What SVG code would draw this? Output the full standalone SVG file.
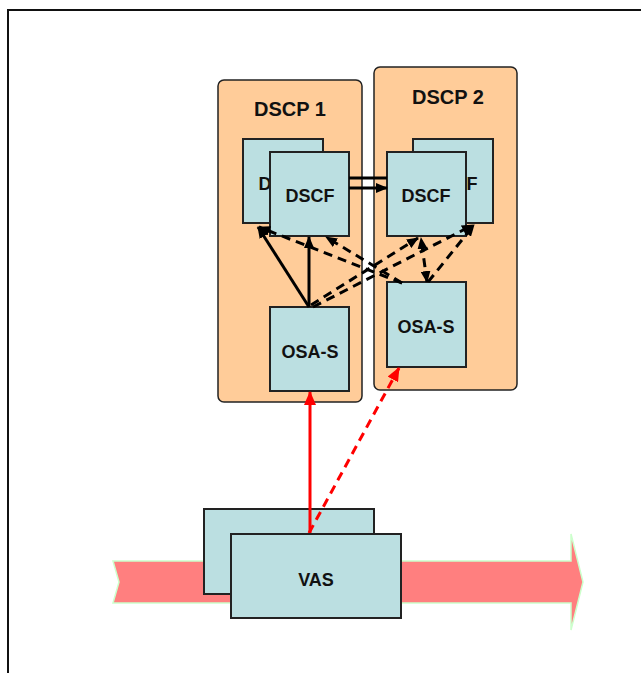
<svg xmlns="http://www.w3.org/2000/svg" width="641" height="673" viewBox="0 0 641 673">
<defs>
<style>
.frame{fill:none;stroke:#111;stroke-width:2}
.dscp{fill:#FFCC99;stroke:#222;stroke-width:1.5}
.box{fill:#BBDFE1;stroke:#222;stroke-width:2}
.lbl{font-family:"Liberation Sans",Arial,sans-serif;font-weight:bold;font-size:18px;fill:#111;text-anchor:middle}
.big{font-size:20px}
.solid{fill:none;stroke:#000;stroke-width:3}
.dash{fill:none;stroke:#000;stroke-width:3;stroke-dasharray:9,6}
.red{fill:none;stroke:#F00;stroke-width:3}
.reddash{fill:none;stroke:#F00;stroke-width:3;stroke-dasharray:9,6}
</style>
<marker id="ah" markerWidth="12" markerHeight="10" refX="11" refY="5" orient="auto" markerUnits="userSpaceOnUse">
<path d="M0,0 L12,5 L0,10 Z" fill="#000"/>
</marker>
<marker id="ahs" markerWidth="12" markerHeight="10" refX="1" refY="5" orient="auto" markerUnits="userSpaceOnUse">
<path d="M12,0 L0,5 L12,10 Z" fill="#000"/>
</marker>
<marker id="rh" markerWidth="14" markerHeight="12" refX="13" refY="6" orient="auto" markerUnits="userSpaceOnUse">
<path d="M0,0 L14,6 L0,12 Z" fill="#F00"/>
</marker>
</defs>

<path class="frame" d="M8,673 V10 H641"/>

<g id="flow">
<polygon points="113,561 571,561 571,534 583,582 571,630 571,603 113,603 119,582" fill="#FF7F7F" stroke="#CCFFCC" stroke-width="1.5"/>
</g>

<g id="dscp1">
<rect class="dscp" x="218" y="80" width="144" height="322" rx="6"/>
<text class="lbl big" x="290" y="116">DSCP 1</text>
</g>
<g id="dscp2">
<rect class="dscp" x="374" y="67" width="143" height="323" rx="6"/>
<text class="lbl big" x="448" y="104">DSCP 2</text>
</g>

<g id="dscf1b">
<rect class="box" x="243" y="139" width="80" height="84"/>
<text class="lbl" x="283" y="190">DSCF</text>
</g>
<g id="dscf1">
<rect class="box" x="270" y="152" width="79" height="84"/>
<text class="lbl" x="310" y="202">DSCF</text>
</g>
<g id="dscf2b">
<rect class="box" x="413" y="139" width="80" height="84"/>
<text class="lbl" x="453" y="190">DSCF</text>
</g>
<g id="dscf2">
<rect class="box" x="387" y="152" width="79" height="84"/>
<text class="lbl" x="426" y="202">DSCF</text>
</g>

<g id="osas1">
<rect class="box" x="270" y="307" width="79" height="84"/>
<text class="lbl" x="310" y="358">OSA-S</text>
</g>
<g id="osas2">
<rect class="box" x="387" y="282" width="79" height="85"/>
<text class="lbl" x="426" y="333">OSA-S</text>
</g>

<g id="vasb">
<rect class="box" x="204" y="509" width="170" height="85"/>
</g>

<g id="connectors">
<line class="solid" x1="349" y1="178" x2="387" y2="178"/>
<line class="solid" x1="349" y1="188" x2="387" y2="188" marker-end="url(#ah)"/>
<line class="solid" x1="309" y1="307" x2="258" y2="227" marker-end="url(#ah)"/>
<line class="solid" x1="309" y1="307" x2="309" y2="237" marker-end="url(#ah)"/>
<line class="dash" x1="311" y1="305" x2="418" y2="238" marker-end="url(#ah)"/>
<line class="dash" x1="313" y1="307" x2="473" y2="225" marker-end="url(#ah)"/>
<line class="dash" x1="427" y1="282" x2="421" y2="238" marker-start="url(#ahs)" marker-end="url(#ah)"/>
<line class="dash" x1="428" y1="282" x2="474" y2="225" marker-end="url(#ah)"/>
<line class="dash" x1="402" y1="283" x2="259" y2="227" marker-end="url(#ah)"/>
<line class="dash" x1="402" y1="283" x2="326" y2="237" marker-end="url(#ah)"/>
<line class="red" x1="310" y1="534" x2="310" y2="392" marker-end="url(#rh)"/>
<line class="reddash" x1="309" y1="533" x2="399" y2="368" marker-end="url(#rh)"/>
</g>

<g id="vas">
<rect class="box" x="231" y="534" width="170" height="84"/>
<text class="lbl" x="316" y="586">VAS</text>
</g>
</svg>
